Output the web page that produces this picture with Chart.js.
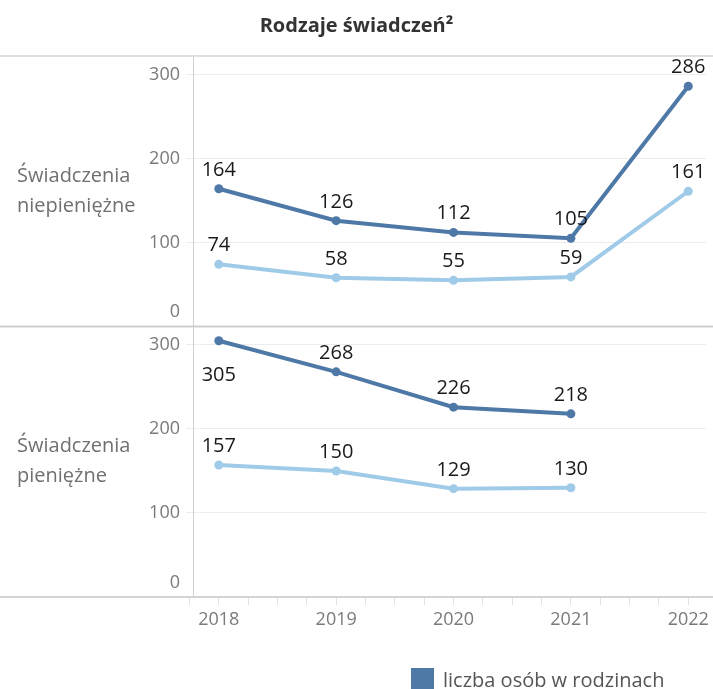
<!DOCTYPE html>
<html lang="pl">
<head>
<meta charset="utf-8">
<title>Rodzaje świadczeń</title>
<script src="https://cdn.jsdelivr.net/npm/chart.js@4.4.1/dist/chart.umd.min.js"></script>
<style>
  html, body { margin: 0; padding: 0; background: #fff; }
</style>
</head>
<body>
<canvas id="chart" width="713" height="689"></canvas>
<script>
// dane
const years = [2018, 2019, 2020, 2021, 2022];
const panelNames = [['Świadczenia', 'niepieniężne'], ['Świadczenia', 'pieniężne']];
const seriesNames = ['liczba osób w rodzinach', 'liczba rodzin'];
const osobyNiepieniezne = [164, 126, 112, 105, 286];
const rodzinyNiepieniezne = [74, 58, 55, 59, 161];
const osobyPieniezne = [305, 268, 226, 218, null];
const rodzinyPieniezne = [157, 150, 129, 130, null];
const yTicks = [0, 100, 200, 300];

const DARK = '#4e79a7';
const LIGHT = '#a0cbe8';

const toPoints = vals => years.map((yr, i) => ({ x: yr, y: vals[i] }));

const makeSeries = (label, vals, color, axis) => ({
   label: label,
   data: toPoints(vals),
   yAxisID: axis,
   borderColor: color,
   backgroundColor: color,
   borderWidth: 4,
   pointRadius: 4.5,
   pointBorderWidth: 0,
   pointHoverRadius: 5,
   tension: 0
});

// etykiety wartości nad punktami
const dataLabels = {
   id: 'dataLabels',
   afterDatasetsDraw(chart) {
      const ctx = chart.ctx;
      const area = chart.chartArea;
      ctx.save();
      ctx.font = '20px "Open Sans"';
      ctx.fillStyle = '#1a1a1a';
      ctx.textAlign = 'center';
      ctx.textBaseline = 'alphabetic';
      chart.data.datasets.forEach((ds, i) => {
         const meta = chart.getDatasetMeta(i);
         const yScale = chart.scales[ds.yAxisID];
         meta.data.forEach((pt, j) => {
            const v = ds.data[j].y;
            if (v === null || v === undefined) return;
            const txt = String(v);
            const w = ctx.measureText(txt).width;
            const x = Math.min(Math.max(pt.x, area.left + 2 + w / 2), chart.width - w / 2);
            let y = pt.y - 13;
            if (y - 15 < yScale.top) y = pt.y + 40;
            ctx.fillText(txt, x, y);
         });
      });
      ctx.restore();
   }
};

// linie oddzielające panele, nazwy wierszy i legenda
const panelFrame = {
   id: 'panelFrame',
   beforeDatasetsDraw(chart) {
      const ctx = chart.ctx;
      const top = chart.scales.yTop;
      const bottom = chart.scales.yBottom;
      ctx.save();
      ctx.lineWidth = 2;
      [[top.top, '#e0e0e0'], [top.bottom, '#cfcfcf'], [bottom.bottom, '#d4d4d4']].forEach(([y, c]) => {
         ctx.strokeStyle = c;
         ctx.beginPath();
         ctx.moveTo(0, y);
         ctx.lineTo(chart.width, y);
         ctx.stroke();
      });

      ctx.font = '20px "Open Sans"';
      ctx.fillStyle = '#707070';
      ctx.textAlign = 'left';
      ctx.textBaseline = 'middle';
      [[top, panelNames[0]], [bottom, panelNames[1]]].forEach(([s, lines]) => {
         const mid = (s.top + s.bottom) / 2;
         lines.forEach((t, k) => ctx.fillText(t, 17, mid + (k - (lines.length - 1) / 2) * 30));
      });
      ctx.restore();
   },
   afterDraw(chart) {
      const ctx = chart.ctx;
      const ds = chart.data.datasets[0];
      ctx.save();
      ctx.fillStyle = ds.borderColor;
      ctx.fillRect(411, 668, 23, 23);
      ctx.fillStyle = '#555';
      ctx.font = '20px "Open Sans"';
      ctx.textAlign = 'left';
      ctx.textBaseline = 'alphabetic';
      ctx.fillText(ds.label, 443, 687);
      ctx.restore();
   }
};

const yAxis = {
   type: 'linear',
   position: 'left',
   stack: 'panele',
   stackWeight: 1,
   min: 0,
   max: 322,
   afterBuildTicks: scale => { scale.ticks = yTicks.map(v => ({ value: v })); },
   afterFit: scale => { scale.width = 193; },
   grid: { color: '#ececec', tickLength: 7, lineWidth: 1 },
   border: { display: true, color: '#d0d0d0', width: 1 },
   ticks: {
      autoSkip: false,
      color: '#7a7a7a',
      padding: 6,
      font: { size: 18, lineHeight: 1.6 },
      callback: v => (v === 0 ? ['0', ''] : String(v))
   }
};

// znaczniki co kwartał, opisy tylko przy pełnych latach
const quarterTicks = [years[0] - 0.25].concat(...years.map(y => [y, y + 0.25, y + 0.5, y + 0.75]));

Chart.defaults.font.family = "'Open Sans'";
const ctx = document.getElementById('chart').getContext('2d');
const chart = new Chart(ctx, {
   type: 'line',
   data: {
      datasets: [
         makeSeries(seriesNames[0], osobyNiepieniezne, DARK, 'yTop'),
         makeSeries(seriesNames[1], rodzinyNiepieniezne, LIGHT, 'yTop'),
         makeSeries(seriesNames[0], osobyPieniezne, DARK, 'yBottom'),
         makeSeries(seriesNames[1], rodzinyPieniezne, LIGHT, 'yBottom')
      ]
   },
   options: {
      responsive: false,
      animation: false,
      layout: { padding: { left: 0, right: 0, top: 0, bottom: 0 } },
      plugins: {
         legend: { display: false },
         tooltip: { enabled: true },
         title: {
            display: true,
            text: 'Rodzaje świadczeń²',
            color: '#333',
            font: { size: 20, weight: 'bold' },
            padding: { top: 14, bottom: 18 }
         }
      },
      scales: {
         x: {
            type: 'linear',
            min: 2017.78,
            max: 2022.155,
            afterBuildTicks: scale => {
               scale.ticks = quarterTicks.filter(v => v >= scale.min - 0.05 && v <= scale.max).map(v => ({ value: v }));
            },
            afterFit: scale => { scale.height = 92; },
            grid: { drawOnChartArea: false, drawTicks: true, tickLength: 8, color: '#e2e2e2' },
            border: { display: false },
            ticks: {
               autoSkip: false,
               maxRotation: 0,
               padding: 4,
               color: '#7a7a7a',
               font: { size: 18 },
               callback: v => (Number.isInteger(v) ? String(v) : '')
            }
         },
         yBottom: Object.assign({}, yAxis),
         yTop: Object.assign({}, yAxis)
      }
   },
   plugins: [panelFrame, dataLabels]
});
</script>
</body>
</html>
